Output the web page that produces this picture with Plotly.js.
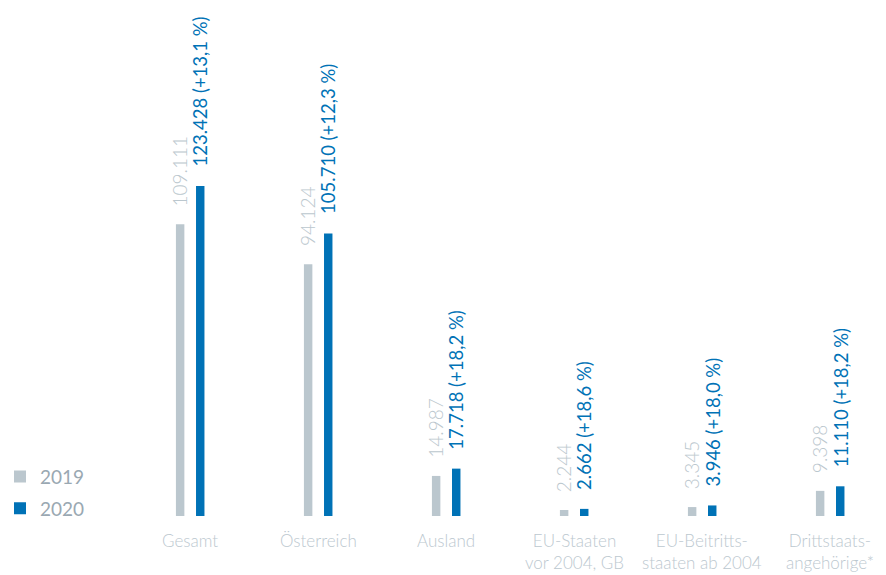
<!DOCTYPE html>
<html>
<head>
<meta charset="utf-8">
<script src="https://cdn.plot.ly/plotly-3.0.1.min.js"></script>
<style>html,body{margin:0;padding:0;background:#fff;}#chart{width:886px;height:575px;}</style>
</head>
<body>
<div id="chart"></div>
<script>
const categories = ['Gesamt', 'Österreich', 'Ausland', 'EU-Staaten<br>vor 2004, GB', 'EU-Beitritts-<br>staaten ab 2004', 'Drittstaats-<br>angehörige*'];
const values2019 = [109111, 94124, 14987, 2244, 3345, 9398];
const values2020 = [123428, 105710, 17718, 2662, 3946, 11110];
const changeLabels = ['+13,1 %', '+12,3 %', '+18,2 %', '+18,6 %', '+18,0 %', '+18,2 %'];
const seriesNames = ['2019', '2020'];

const GRAY = '#bbc7ce';
const BLUE = '#0072b6';
const FONT = 'Lato, "Open Sans", sans-serif';

function fmt(v) {
  return String(v).replace(/\B(?=(\d{3})+(?!\d))/g, '.');
}

const xs = categories.map((c, i) => i);

const traces = [
  {
    type: 'bar', name: seriesNames[0], x: xs, y: values2019,
    width: 0.066, offset: -0.11,
    marker: {color: GRAY, line: {width: 0}},
    legendgroup: 'a', hoverinfo: 'none'
  },
  {
    type: 'bar', name: seriesNames[1], x: xs, y: values2020,
    width: 0.066, offset: 0.047,
    marker: {color: BLUE, line: {width: 0}},
    legendgroup: 'b', hoverinfo: 'none'
  }
];

const annotations = [];
xs.forEach((x, i) => {
  annotations.push({
    x: x - 0.08, y: values2019[i], xref: 'x', yref: 'y',
    text: fmt(values2019[i]), textangle: -90, showarrow: false,
    xanchor: 'center', yanchor: 'bottom', yshift: 16,
    font: {family: FONT, size: 19, color: GRAY, weight: 300}
  });
  annotations.push({
    x: x + 0.082, y: values2020[i], xref: 'x', yref: 'y',
    text: fmt(values2020[i]) + ' (' + changeLabels[i] + ')', textangle: -90, showarrow: false,
    xanchor: 'center', yanchor: 'bottom', yshift: 17,
    font: {family: FONT, size: 18.5, color: BLUE}
  });
  annotations.push({
    x: x, y: 0, xref: 'x', yref: 'y',
    text: categories[i], showarrow: false,
    xanchor: 'center', yanchor: 'top', yshift: -12,
    font: {family: FONT, size: 17, color: '#bcc8cf', weight: 300}
  });
});

const layout = {
  width: 886, height: 575,
  margin: {l: 0, r: 0, t: 0, b: 59},
  paper_bgcolor: '#ffffff', plot_bgcolor: '#ffffff',
  barmode: 'overlay',
  xaxis: {range: [-190/128, 696/128], showgrid: false, zeroline: false, showticklabels: false, ticks: '', fixedrange: true},
  yaxis: {range: [0, 193000], showgrid: false, zeroline: false, showticklabels: false, ticks: '', fixedrange: true},
  showlegend: true,
  legend: {
    x: 0, xanchor: 'left', y: 0.113, yanchor: 'top',
    orientation: 'v', traceorder: 'grouped', tracegroupgap: 4,
    font: {family: FONT, size: 19, color: '#9aa8b2'},
    bgcolor: 'rgba(0,0,0,0)'
  },
  annotations: annotations
};

Plotly.newPlot('chart', traces, layout, {displayModeBar: false, staticPlot: true});
</script>
</body>
</html>
